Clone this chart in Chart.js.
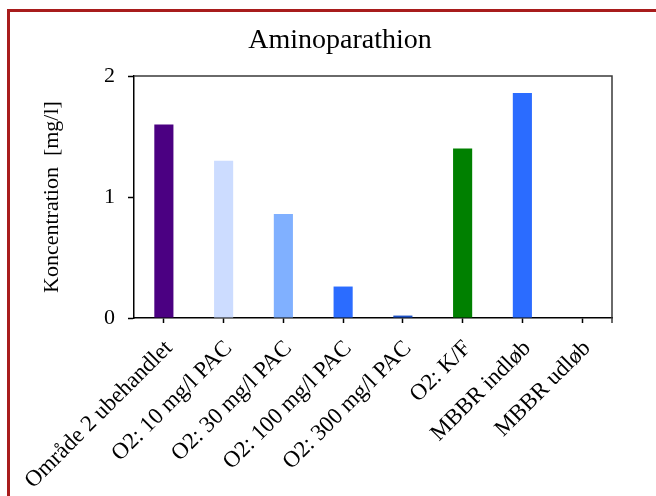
<!DOCTYPE html>
<html>
<head>
<meta charset="utf-8">
<script src="https://cdn.jsdelivr.net/npm/chart.js@4/dist/chart.umd.min.js"></script>
<style>
  html, body { margin: 0; padding: 0; background: #ffffff; }
  #wrap { position: relative; width: 656px; height: 496px; }
</style>
</head>
<body>
<div id="wrap"><canvas id="c" width="656" height="496"></canvas></div>
<script>
// Sample points along the treatment chain
const categories = [
  'Område 2 ubehandlet',
  'O2: 10 mg/l PAC',
  'O2: 30 mg/l PAC',
  'O2: 100 mg/l PAC',
  'O2: 300 mg/l PAC',
  'O2: K/F',
  'MBBR indløb',
  'MBBR udløb'
];
// Aminoparathion concentration, mg/l
const concentrations = [1.60, 1.30, 0.86, 0.26, 0.02, 1.40, 1.86, 0];
const yTicks = [0, 1, 2];
const chartTitle = 'Aminoparathion';

const barColors = ['#4b0082', '#ccdcff', '#80b0ff', '#2b6cff', '#1c50c4', '#008000', '#2b6cff', '#2b6cff'];

const serif = '"Liberation Serif", "Times New Roman", serif';

// Outer red frame, the page-centred heading and the closed plot box
const framePlugin = {
  id: 'frame',
  beforeDraw(chart) {
    const ctx = chart.ctx;
    ctx.save();
    ctx.strokeStyle = '#a81c1c';
    ctx.lineWidth = 3;
    ctx.beginPath();
    ctx.moveTo(8.5, 500);
    ctx.lineTo(8.5, 10.5);
    ctx.lineTo(660, 10.5);
    ctx.stroke();

    ctx.fillStyle = '#000000';
    ctx.font = '28px ' + serif;
    ctx.textAlign = 'center';
    ctx.textBaseline = 'alphabetic';
    ctx.fillText(chartTitle, 340, 48);
    ctx.restore();
  },
  afterDraw(chart) {
    const a = chart.chartArea;
    const ctx = chart.ctx;
    ctx.save();
    ctx.strokeStyle = '#3a3a3a';
    ctx.lineWidth = 1.5;
    ctx.beginPath();
    ctx.moveTo(a.left, a.top);
    ctx.lineTo(a.right, a.top);
    ctx.lineTo(a.right, a.bottom + 5);
    ctx.stroke();
    ctx.restore();
  }
};

new Chart(document.getElementById('c'), {
  type: 'bar',
  data: {
    labels: categories,
    datasets: [{
      data: concentrations,
      backgroundColor: barColors,
      borderWidth: 0,
      barPercentage: 0.32,
      categoryPercentage: 1.0
    }]
  },
  options: {
    responsive: false,
    animation: false,
    devicePixelRatio: 1,
    layout: { padding: { left: 0, right: 44, top: 76, bottom: 0 } },
    plugins: {
      legend: { display: false },
      tooltip: { enabled: false },
      title: { display: false }
    },
    scales: {
      x: {
        offset: true,
        grid: {
          display: true,
          offset: false,
          drawOnChartArea: false,
          drawTicks: true,
          tickLength: 5,
          tickColor: '#000000',
          tickWidth: 1.5
        },
        border: { display: true, color: '#000000', width: 1.5 },
        ticks: {
          color: '#000000',
          font: { family: serif, size: 23 },
          minRotation: 45,
          maxRotation: 45,
          autoSkip: false,
          padding: 12,
          labelOffset: 5
        },
        afterFit(scale) { scale.height = 178; }
      },
      y: {
        min: 0,
        max: 2,
        afterBuildTicks(scale) { scale.ticks = yTicks.map(v => ({ value: v })); },
        grid: {
          display: true,
          drawOnChartArea: false,
          drawTicks: true,
          tickLength: 6,
          tickColor: '#000000',
          tickWidth: 1.5
        },
        border: { display: true, color: '#000000', width: 1.5 },
        ticks: {
          color: '#000000',
          font: { family: serif, size: 22 },
          padding: 13
        },
        title: {
          display: true,
          text: 'Koncentration  [mg/l]',
          color: '#000000',
          font: { family: serif, size: 22 },
          padding: { top: 39, bottom: 0 }
        },
        afterFit(scale) { scale.width = 134; }
      }
    }
  },
  plugins: [framePlugin]
});
</script>
</body>
</html>
